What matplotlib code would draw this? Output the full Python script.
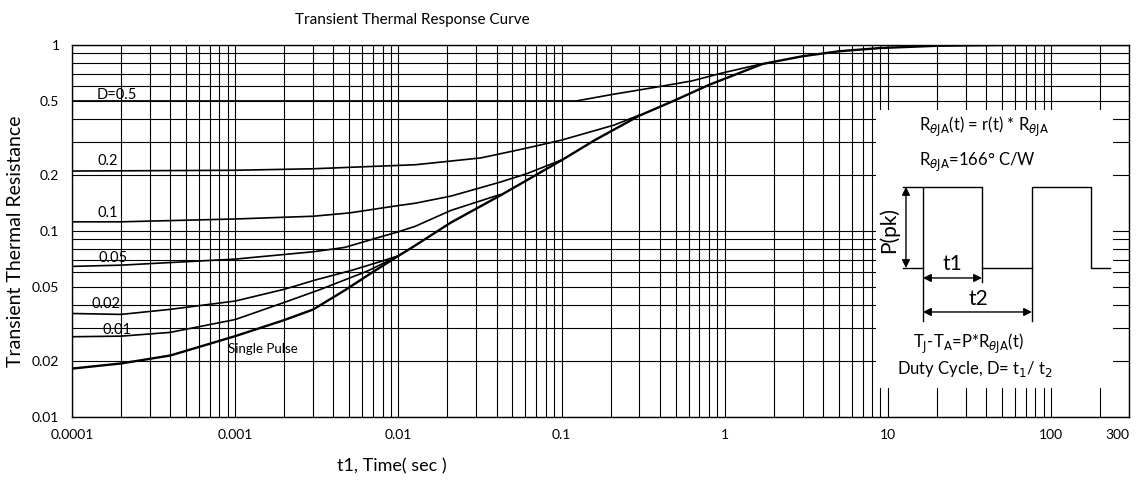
import matplotlib
matplotlib.use("Agg")
import matplotlib.pyplot as plt
from matplotlib.patches import Rectangle

plt.rcParams["font.family"] = ["Lato", "DejaVu Sans"]

# ---- data (t1 in sec, r(t)) ----
single_x = [1e-4, 2e-4, 4e-4, 1e-3, 2e-3, 3e-3, 4.7e-3, 6.9e-3, 1e-2, 1.2e-2, 2.1e-2,
            4.2e-2, 6.1e-2, 0.1, 0.16, 0.3, 0.5, 0.8, 1.7, 3, 5, 9, 20, 50, 300]
single_y = [0.0182, 0.0194, 0.0214, 0.0272, 0.0332, 0.0378, 0.0480, 0.0598, 0.0735, 0.081,
            0.111, 0.155, 0.187, 0.24, 0.308, 0.417, 0.506, 0.61, 0.79, 0.87, 0.925, 0.963,
            0.99, 1.0, 1.0]

d01_x = [1e-4, 2e-4, 4e-4, 1e-3, 2e-3, 3.35e-3, 6.5e-3, 1e-2]
d01_y = [0.0270, 0.0272, 0.0285, 0.0334, 0.0413, 0.0486, 0.061, 0.0735]

d02_x = [1e-4, 2e-4, 4e-4, 1e-3, 2e-3, 3.1e-3, 5.2e-3, 7.2e-3, 1e-2]
d02_y = [0.0360, 0.0356, 0.0379, 0.0420, 0.0486, 0.0545, 0.0615, 0.0671, 0.0735]

d05_x = [1e-4, 2e-4, 1e-3, 3e-3, 4.7e-3, 7.3e-3, 1e-2, 1.27e-2, 2.1e-2, 4.2e-2]
d05_y = [0.0645, 0.0655, 0.0706, 0.0773, 0.0816, 0.0915, 0.099, 0.106, 0.129, 0.157]

d10_x = [1e-4, 2e-4, 1e-3, 3e-3, 5e-3, 1e-2, 1.27e-2, 2.1e-2, 4.2e-2, 6.1e-2, 0.1]
d10_y = [0.112, 0.112, 0.116, 0.120, 0.125, 0.137, 0.141, 0.154, 0.183, 0.203, 0.241]

d20_x = [1e-4, 1e-3, 3e-3, 1.27e-2, 3.2e-2, 5.9e-2, 0.1, 0.21, 0.3]
d20_y = [0.21, 0.212, 0.216, 0.227, 0.247, 0.277, 0.308, 0.371, 0.42]

d50_x = [1e-4, 0.123, 0.207, 0.30, 0.40, 0.63, 0.96, 1.67]
d50_y = [0.5, 0.5, 0.543, 0.573, 0.598, 0.641, 0.706, 0.79]

curves = [(d50_x, d50_y), (d20_x, d20_y), (d10_x, d10_y), (d05_x, d05_y),
          (d02_x, d02_y), (d01_x, d01_y)]

# curve labels (axes fraction positions)
curve_labels = ["D=0.5", "0.2", "0.1", "0.05", "0.02", "0.01", "Single Pulse"]
label_pos = [(0.0237, 0.866), (0.0246, 0.688), (0.0237, 0.548), (0.0255, 0.427),
             (0.0189, 0.304), (0.0293, 0.234), (0.1476, 0.183)]

xticks = [1e-4, 1e-3, 1e-2, 1e-1, 1, 10, 100, 300]
xticklabels = ["0.0001", "0.001", "0.01", "0.1", "1", "10", "100", "300"]
yticks = [0.01, 0.02, 0.05, 0.1, 0.2, 0.5, 1]
yticklabels = ["0.01", "0.02", "0.05", "0.1", "0.2", "0.5", "1"]

fig = plt.figure(figsize=(11.39, 4.82), dpi=100)
ax = fig.add_axes([0.0632, 0.1349, 0.928, 0.7718])
ax.set_xscale("log")
ax.set_yscale("log")
ax.set_xlim(1e-4, 300)
ax.set_ylim(0.01, 1.0)

ax.grid(True, which="both", color="black", linewidth=0.8, zorder=0)
ax.set_axisbelow(True)
for s in ax.spines.values():
    s.set_linewidth(1.0)

ax.set_xticks(xticks)
ax.set_xticklabels(xticklabels)
ax.set_yticks(yticks)
ax.set_yticklabels(yticklabels)
ax.tick_params(which="both", length=0, labelsize=10)
ax.tick_params(axis="x", pad=9)
ax.tick_params(axis="y", pad=9)
ax.minorticks_on()
ax.tick_params(which="minor", length=0, labelbottom=False, labelleft=False)
ax.xaxis.set_minor_formatter(plt.NullFormatter())
ax.yaxis.set_minor_formatter(plt.NullFormatter())
# last label sits inside the right edge, as in the original
ax.get_xticklabels()[-1].set_horizontalalignment("right")

for cx, cy in curves:
    ax.plot(cx, cy, color="black", lw=1.2, zorder=3)
ax.plot(single_x, single_y, color="black", lw=1.7, zorder=4)

for lab, (lx, ly) in zip(curve_labels, label_pos):
    ax.text(lx, ly, lab, transform=ax.transAxes, ha="left", va="center",
            fontsize=10.5 if lab != "Single Pulse" else 9.5, zorder=5)

# ---- inset with pulse diagram ----
def fx(px):
    return (px - 72) / 1057.0

def fy(py):
    return (417 - py) / 372.0

ax.add_patch(Rectangle((fx(876), fy(388)), fx(1113) - fx(876), fy(110) - fy(388),
                       transform=ax.transAxes, facecolor="white", edgecolor="none",
                       zorder=2))
T = ax.transAxes
ax.text(fx(919), fy(127), r"R$_{\theta \mathrm{JA}}$(t) = r(t) * R$_{\theta\mathrm{JA}}$",
        transform=T, ha="left", va="center", fontsize=12, zorder=5)
ax.text(fx(919), fy(162), r"R$_{\theta \mathrm{JA}}$=166° C/W",
        transform=T, ha="left", va="center", fontsize=12, zorder=5)

wave_px = [903, 923, 923, 982, 982, 1032, 1032, 1091, 1091, 1110]
wave_py = [268, 268, 187, 187, 268, 268, 187, 187, 268, 268]
ax.plot([fx(p) for p in wave_px], [fy(p) for p in wave_py], transform=T,
        color="black", lw=1.0, zorder=5)
ax.plot([fx(903), fx(923)], [fy(187), fy(187)], transform=T, color="black", lw=1.0, zorder=5)
for xp, y2 in [(923, 321), (982, 282), (1032, 321)]:
    ax.plot([fx(xp), fx(xp)], [fy(268), fy(y2)], transform=T, color="black", lw=1.0, zorder=5)

arrow = dict(arrowstyle="<|-|>", color="black", lw=1.0, mutation_scale=12,
             shrinkA=0, shrinkB=0)
ax.annotate("", xy=(fx(906), fy(187)), xytext=(fx(906), fy(268)), xycoords=T,
            textcoords=T, arrowprops=arrow, zorder=5)
ax.annotate("", xy=(fx(923), fy(278)), xytext=(fx(982), fy(278)), xycoords=T,
            textcoords=T, arrowprops=arrow, zorder=5)
ax.annotate("", xy=(fx(923), fy(312)), xytext=(fx(1032), fy(312)), xycoords=T,
            textcoords=T, arrowprops=arrow, zorder=5)
ax.text(fx(889), fy(230), "P(pk)", transform=T, rotation=90, ha="center", va="center",
        fontsize=15, zorder=5)
ax.text(fx(952), fy(264), "t1", transform=T, ha="center", va="center", fontsize=15, zorder=5)
ax.text(fx(978), fy(299), "t2", transform=T, ha="center", va="center", fontsize=15, zorder=5)
ax.text(fx(968), fy(344), r"T$_\mathrm{J}$-T$_\mathrm{A}$=P*R$_{\theta \mathrm{JA}}$(t)",
        transform=T, ha="center", va="center", fontsize=12, zorder=5)
ax.text(fx(975), fy(369), r"Duty Cycle, D= t$_1$/ t$_2$",
        transform=T, ha="center", va="center", fontsize=12, zorder=5)

fig.text(0.3617, 0.9585, "Transient Thermal Response Curve", ha="center", va="center",
         fontsize=11)
fig.text(0.344, 0.033, "t1, Time( sec )", ha="center", va="center", fontsize=13)
fig.text(0.0132, 0.5, "Transient Thermal Resistance", ha="center", va="center",
         rotation=90, fontsize=14)

fig.savefig("out.png", dpi=100)
